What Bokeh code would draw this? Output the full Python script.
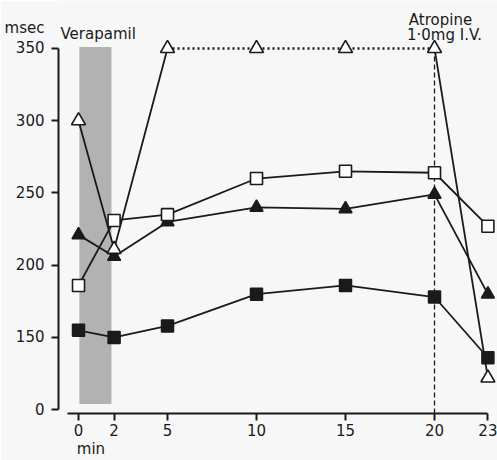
from bokeh.plotting import figure
from bokeh.models import LinearAxis, FixedTicker, Label
from bokeh.embed import file_html
from bokeh.resources import INLINE

# ---- data ----
time_min = [0, 2, 5, 10, 15, 20, 23]
open_triangle = [300, 211, 350, 350, 350, 350, 122]
open_square = [186, 231, 235, 260, 265, 264, 227]
filled_triangle = [221, 206, 230, 240, 239, 249, 180]
filled_square = [155, 150, 158, 180, 186, 178, 136]

x_ticks = [0, 2, 5, 10, 15, 20, 23]
y_ticks = [100, 150, 200, 250, 300, 350]
y_tick_labels = ["0", "150", "200", "250", "300", "350"]
y_unit = "msec"
x_unit = "min"

verapamil_start, verapamil_end = 0.05, 1.85
verapamil_low, verapamil_high = 104, 351
atropine_time = 20

# ---- layout / style ----
FONT = "DejaVu Sans"
INK = "#1a1a1a"
PAPER = "#f7f7f7"
X_RANGE = (-1.124, 23.539)
Y_RANGE = (97.4, 383.2)
Y_UNIT_POS = 364      # where the "msec" caption sits on the value scale
X_UNIT_POS = 0.70     # where the "min" caption sits on the time scale

p = figure(width=497, height=460, output_backend="svg", toolbar_location=None,
           x_range=X_RANGE, y_range=Y_RANGE,
           min_border_left=58, min_border_right=0, min_border_top=0,
           min_border_bottom=47)
p.background_fill_color = PAPER
p.border_fill_color = PAPER
p.outline_line_color = None
p.grid.visible = False


def style_axis(ax):
    ax.axis_line_width = 2
    ax.axis_line_color = INK
    ax.major_tick_line_width = 2
    ax.major_tick_line_color = INK
    ax.major_tick_in = 0
    ax.major_tick_out = 7
    ax.minor_tick_line_color = None
    ax.major_label_text_font = FONT
    ax.major_label_text_font_size = "15px"
    ax.major_label_text_color = INK
    ax.major_label_standoff = 3


# x axis
style_axis(p.xaxis[0])
p.xaxis.ticker = FixedTicker(ticks=x_ticks)
p.xaxis.bounds = (-0.62, time_min[-1])

# y axis: line + ticks (the numbers are carried by the outer text axis below)
style_axis(p.yaxis[0])
p.yaxis.ticker = FixedTicker(ticks=y_ticks)
p.yaxis.bounds = (y_ticks[0], y_ticks[-1])
p.yaxis.major_label_overrides = {t: "" for t in y_ticks}
p.yaxis.major_label_standoff = 0


def text_axis(side, ticks, labels, standoff):
    """An axis that only carries text labels (no line, no ticks)."""
    ax = LinearAxis(ticker=FixedTicker(ticks=ticks),
                    major_label_overrides=dict(zip(ticks, labels)),
                    bounds=(min(ticks), max(ticks)),
                    axis_line_color=None, major_tick_line_color=None,
                    minor_tick_line_color=None, major_tick_in=0, major_tick_out=0,
                    major_label_standoff=standoff,
                    major_label_text_font=FONT,
                    major_label_text_font_size="15px",
                    major_label_text_color=INK)
    p.add_layout(ax, side)
    return ax


text_axis("left", y_ticks + [Y_UNIT_POS], y_tick_labels + [y_unit], 7)
text_axis("below", [X_UNIT_POS], [x_unit], 1)


# in-plot captions (screen offsets from the frame's lower-left corner)
def lab(txt, x, y, align="left"):
    p.add_layout(Label(x=x, y=y, x_units="screen", y_units="screen", text=txt,
                       text_font=FONT, text_font_size="15px", text_color=INK,
                       text_align=align, text_baseline="alphabetic"))


lab("Verapamil", 2, 380)
lab("Atropine", 382, 394, align="center")
lab("1·0mg I.V.", 386, 378.5, align="center")

# verapamil shaded band
p.quad(left=[verapamil_start], right=[verapamil_end], bottom=[verapamil_low],
       top=[verapamil_high], fill_color="#aaaaaa", fill_alpha=0.9, line_color=None)

# atropine dashed vertical line
p.segment(x0=[atropine_time], x1=[atropine_time], y0=[Y_RANGE[0]],
          y1=[open_triangle[time_min.index(atropine_time)]],
          line_color=INK, line_width=1.3, line_dash="5 3")

# lines
i5 = time_min.index(5)
i20 = time_min.index(atropine_time)
p.line(time_min[:i5 + 1], open_triangle[:i5 + 1], line_color=INK, line_width=1.8)
p.line(time_min[i5:i20 + 1], open_triangle[i5:i20 + 1], line_color=INK,
       line_width=2.6, line_dash="2 3")
p.line(time_min[i20:], open_triangle[i20:], line_color=INK, line_width=1.8)
for ys in (open_square, filled_triangle, filled_square):
    p.line(time_min, ys, line_color=INK, line_width=1.8)

# markers
p.scatter(time_min, filled_square, marker="square", size=12,
          fill_color=INK, line_color=INK, line_width=1.5)
p.scatter(time_min, filled_triangle, marker="triangle", size=13,
          fill_color=INK, line_color=INK, line_width=1.5)
p.scatter(time_min, open_square, marker="square", size=12,
          fill_color="white", line_color=INK, line_width=1.6)
p.scatter(time_min, open_triangle, marker="triangle", size=14,
          fill_color="white", line_color=INK, line_width=1.6)

open("out.html", "w").write(file_html(p, INLINE))
